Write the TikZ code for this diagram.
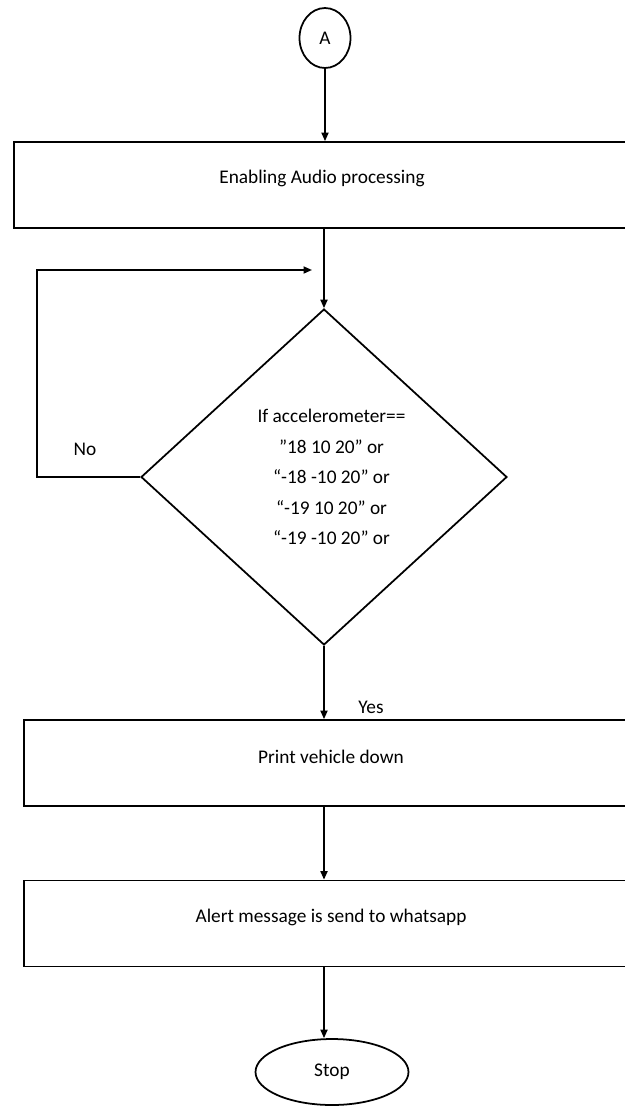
\documentclass[tikz,border=0pt]{standalone}
\usepackage{fontspec}
\setmainfont{Carlito}
\usetikzlibrary{shapes.geometric,arrows.meta}

\begin{document}
\begin{tikzpicture}[x=0.02cm,y=-0.02cm,
        font=\fontsize{11}{13}\selectfont,
        line width=1pt,
        >={Triangle[length=0.17cm,width=0.14cm]},
        procbox/.style={shape=rectangle,draw=black,minimum height=1.72cm,inner sep=0pt},
        boxtext/.style={yshift=0.12cm},
        decision/.style={shape=diamond,draw=black,inner sep=0pt,align=center,
            minimum width=7.32cm,minimum height=6.72cm,
            font=\fontsize{11}{17.4}\selectfont},
        terminal/.style={shape=ellipse,draw=black,inner sep=0pt}]
            \useasboundingbox (0,0) rectangle (625,1106);

            \node[terminal,minimum width=1.02cm,minimum height=1.2cm] (a) at (325,38) {A};
            \node[procbox,minimum width=12.32cm,
                label={[boxtext,yshift=0.02cm]center:Enabling Audio processing}] (enable) at (322,185) {};
            \node[decision] (cond) at (324,477) {\hspace*{0.3cm}If accelerometer==\\
                \hspace*{0.3cm}”18 10 20” or\\
                \hspace*{0.3cm}“-18 -10 20” or\\
                \hspace*{0.3cm}“-19 10 20” or\\
                \hspace*{0.3cm}“-19 -10 20” or};
            \node[procbox,minimum width=12.28cm,
                label={[boxtext]center:Print vehicle down}] (print) at (331,763) {};
            \node[procbox,minimum width=12.28cm,
                label={[boxtext]center:Alert message is send to whatsapp}] (alert) at (331,923.5) {};
            \node[terminal,minimum width=3.06cm,minimum height=1.32cm] (stop) at (332,1072) {Stop};

            \node (no) at (85,449) {No};
            \node (yes) at (371,707) {Yes};
            \coordinate (noturn) at (37,477);
            \coordinate (back) at (312,270);

            \draw [->] (a.south) -- (a.south |- enable.north);
            \draw [->] (enable.south -| cond.north) -- (cond.north);
            \draw [->] (cond.west) -- (noturn) |- (back);
            \draw [->] (cond.south) -- (cond.south |- print.north);
            \draw [->] (print.south -| cond.south) -- (cond.south |- alert.north);
            \draw [->] (alert.south -| cond.south) -- (cond.south |- stop.north);
        \end{tikzpicture}
\end{document}
